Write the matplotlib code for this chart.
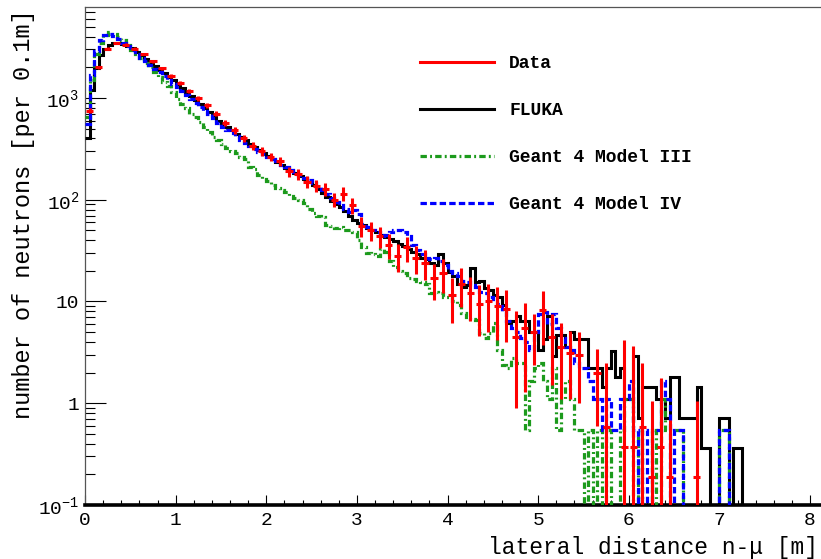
import numpy as np
import matplotlib
matplotlib.use("Agg")
import matplotlib.pyplot as plt
from matplotlib.lines import Line2D
from matplotlib.ticker import FixedLocator, FixedFormatter, LogLocator, MultipleLocator, NullFormatter

plt.rcParams['font.family'] = ['Liberation Mono', 'DejaVu Sans Mono']
plt.rcParams['mathtext.fontset'] = 'custom'
plt.rcParams['mathtext.rm'] = 'Liberation Mono'
plt.rcParams['mathtext.it'] = 'Liberation Mono'

# simulation histograms: 0.05 m bins starting at 0
MC_BIN = 0.05
fluka = [400, 1200, 1950, 2650, 3050, 3300, 3450, 3480, 3420, 3250,
         3100, 2850, 2630, 2430, 2240, 2070, 1900, 1760, 1620, 1500,
         1380, 1260, 1150, 1050, 955, 870, 795, 725, 660, 600,
         555, 515, 480, 445, 413, 384, 356, 331, 308, 286,
         267, 250, 235, 220, 207, 194, 182, 171, 160, 151,
         140, 128, 117, 107, 98, 90, 84, 78, 70, 63,
         59, 56, 53, 50, 48, 45, 43, 41, 39, 37,
         35, 33, 31, 29, 27, 26, 24, 23, 29, 24,
         19.5, 18, 15, 14, 14.5, 21.5, 15.7, 16, 13.6, 13,
         11.5, 11, 9.2, 6.2, 6.5, 7.2, 6.5, 6.5, 5.0, 5.0,
         3.3, 4.3, 7.2, 2.9, 4.7, 4.7, 3.6, 5.0, 4.3, 4.3,
         4.3, 2.2, 2.2, 2.2, 1.44, 2.2, 3.25, 1.8, 2.2, 1.1,
         1.1, 2.9, 0.72, 1.44, 1.44, 1.44, 1.1, 1.1, 0.72, 1.8,
         1.8, 0.72, 0.72, 0.72, 0.72, 1.44, 0.36, 0.36, 0, 0,
         0.72, 0.72, 0, 0.36, 0.36, 0]
g4_model3 = [650, 1500, 2700, 3500, 4200, 4450, 4300, 4000, 3700, 3350,
             2950, 2700, 2450, 2200, 2000, 1800, 1600, 1450, 1300, 1150,
             980, 880, 800, 700, 650, 580, 520, 460, 410, 390,
             350, 320, 300, 285, 265, 250, 210, 200, 175, 160,
             152, 140, 130, 126, 118, 110, 105, 100, 92, 82,
             74, 70, 68, 57, 55, 53, 54, 51, 50, 48,
             40, 34, 30, 29, 28, 33, 31, 25, 22, 20,
             19, 17, 16.5, 16, 15.5, 15, 12, 12.5, 12, 11,
             11, 10, 9.2, 7.7, 7, 6.8, 6.6, 4.9, 4.4, 4.9,
             6.2, 3.3, 2.4, 2.2, 2.8, 2.5, 2.5, 0.55, 1.65, 2.2,
             2.5, 1.65, 1.1, 2.2, 0.55, 1.1, 1.65, 1.1, 0.55, 0.55,
             0, 0.55, 0, 0.55, 0, 0.55, 0, 0, 0.55, 1.1,
             1.1, 0, 0.55, 0, 0, 0.55, 0, 1.1, 0.55, 0.55,
             0.55, 0.55, 0, 0, 0, 0, 0, 0, 0, 0,
             0.55, 0.55, 0, 0, 0, 0]
g4_model4 = [560, 1700, 2900, 3700, 4150, 4250, 4100, 3800, 3500, 3250,
             2950, 2700, 2500, 2300, 2120, 1920, 1800, 1650, 1500, 1380,
             1280, 1180, 1080, 980, 900, 820, 750, 690, 630, 570,
             520, 480, 450, 420, 390, 360, 340, 315, 295, 280,
             265, 250, 238, 222, 210, 197, 186, 176, 165, 155,
             145, 133, 124, 114, 104, 96, 88, 82, 76, 80,
             72, 58, 54, 50, 48, 44, 45, 48, 50, 50,
             48, 44, 36, 32, 29, 27, 26, 27, 25, 23,
             20, 19, 18, 16, 15.5, 14.5, 14, 12.5, 12, 11,
             10, 9.5, 8, 6.5, 5.5, 5, 4.4, 4, 3.3, 5,
             7.5, 7.8, 6, 7.5, 5.5, 4.4, 3.6, 3.3, 2.5, 2.2,
             2.2, 1.65, 1.1, 1.1, 0.55, 1.1, 0.55, 0.55, 1.1, 1.1,
             1.65, 0.55, 0, 0.55, 0, 0.55, 0.55, 1.65, 1.1, 0,
             0.55, 0.55, 0, 0, 0, 0, 0, 0, 0, 0,
             0.55, 0.55, 0, 0, 0, 0]

# measured data: 0.1 m bins starting at 0
DATA_BIN = 0.1
data_vals = [750, 2000, 3050, 3450, 3350, 3050, 2700, 2300, 1950, 1650,
             1400, 1170, 990, 850, 700, 570, 480, 405, 340, 300,
             265, 240, 190, 178, 150, 137, 128, 100, 115, 88,
             55, 50, 44, 36, 28, 34, 27, 24, 17, 19,
             11.5, 15, 12, 9.5, 10, 9, 8.5, 4.5, 5.5, 5,
             8.2, 4.5, 3.6, 3.1, 3.0, 0, 2.0, 0.58, 0, 0.37,
             0.37, 0.58, 0.19, 0.37, 0.19, 0, 0, 0.19, 0, 0,
             0, 0, 0]
data_errs = [45, 72, 88, 94, 92, 88, 83, 77, 70, 65,
             60, 55, 50, 47, 42, 38, 35, 32, 30, 28,
             26, 25, 22, 21, 20, 19, 18, 16, 17, 15,
             12, 11, 10.5, 9.6, 8.5, 9.3, 8.3, 7.8, 6.6, 7,
             5.4, 6.2, 5.5, 4.9, 5, 4.8, 4.5, 3.6, 4.2, 2.6,
             4.5, 3, 2.5, 2, 2, 0, 1.4, 1.9, 0, 3.8,
             3.3, 1.9, 0.86, 1.4, 0.5, 0, 0, 0.86, 0, 0,
             0, 0, 0]

FLOOR = 1e-3  # empty bins are drawn on the lower frame, like ROOT does
RED, GREEN, BLUE = '#ff0000', '#1c9a1c', '#0000ff'
DASH_G = (0, (2.0, 1.0, 0.6, 1.0))
DASH_B = (0, (2.0, 1.0))

fig = plt.figure(figsize=(8.21, 5.59), dpi=100)
ax = fig.add_axes([85 / 821, 54 / 559, 736 / 821, 498 / 559])


def draw_mc(vals, **kw):
    vals = np.asarray(vals, dtype=float)
    edges = np.arange(len(vals) + 1) * MC_BIN
    ax.stairs(np.where(vals > 0, vals, FLOOR), edges, baseline=None, **kw)


draw_mc(fluka, color='black', lw=2.2, zorder=3)
draw_mc(g4_model3, color=GREEN, lw=2.3, linestyle=DASH_G, zorder=4)
draw_mc(g4_model4, color=BLUE, lw=2.3, linestyle=DASH_B, zorder=4)

dv = np.asarray(data_vals, dtype=float)
de = np.asarray(data_errs, dtype=float)
dx = (np.arange(len(dv)) + 0.5) * DATA_BIN
m = dv > 0
lo = np.maximum(dv[m] - de[m], FLOOR)
ax.vlines(dx[m], lo, dv[m] + de[m], color=RED, lw=2.2, zorder=5)
ax.hlines(dv[m], dx[m] - 0.04, dx[m] + 0.04, color=RED, lw=2.2, zorder=5)

ax.set_yscale('log')
ax.set_xlim(0, 8.12)
ax.set_ylim(0.1, 7840)

# axes styling (ROOT look)
for s in ['left', 'top']:
    ax.spines[s].set_linewidth(0.9)
    ax.spines[s].set_color('#555555')
ax.spines['right'].set_visible(False)
ax.spines['bottom'].set_linewidth(2.6)

ax.xaxis.set_major_locator(MultipleLocator(1))
ax.xaxis.set_minor_locator(MultipleLocator(0.2))
ax.yaxis.set_major_locator(FixedLocator([0.1, 1, 10, 100, 1000]))
ax.yaxis.set_major_formatter(FixedFormatter(['$10^{-1}$', '1', '10', '$10^{2}$', '$10^{3}$']))
ax.yaxis.set_minor_locator(LogLocator(base=10, subs=np.arange(2, 10)))
ax.yaxis.set_minor_formatter(NullFormatter())
ax.tick_params(axis='x', which='major', direction='in', length=7.5, width=0.8, labelsize=14, pad=5)
ax.tick_params(axis='x', which='minor', direction='in', length=3.8, width=0.8)
ax.tick_params(axis='y', which='major', direction='in', length=15, width=0.8, labelsize=14, pad=4)
ax.tick_params(axis='y', which='minor', direction='in', length=7.5, width=0.8)

ax.set_xlabel('lateral distance n-μ [m]', fontsize=16.5, loc='right')
ax.xaxis.set_label_coords(0.996, -0.063)
ax.set_ylabel('number of neutrons [per 0.1m]', fontsize=17, loc='top')
ax.yaxis.set_label_coords(-0.068, 0.996)

handles = [Line2D([], [], color=RED, lw=2.2),
           Line2D([], [], color='black', lw=2.2),
           Line2D([], [], color=GREEN, lw=2.3, linestyle=DASH_G),
           Line2D([], [], color=BLUE, lw=2.3, linestyle=DASH_B)]
labels = ['Data', 'FLUKA', 'Geant 4 Model III', 'Geant 4 Model IV']
ax.legend(handles, labels, loc='upper left', bbox_to_anchor=(420 / 821, 1 - 55 / 559),
          bbox_transform=fig.transFigure, frameon=False, borderpad=0, borderaxespad=0,
          handlelength=4.1, handletextpad=0.85, labelspacing=1.67,
          prop={'family': 'Liberation Mono', 'weight': 'bold', 'size': 13})

fig.savefig('out.png', dpi=100)
